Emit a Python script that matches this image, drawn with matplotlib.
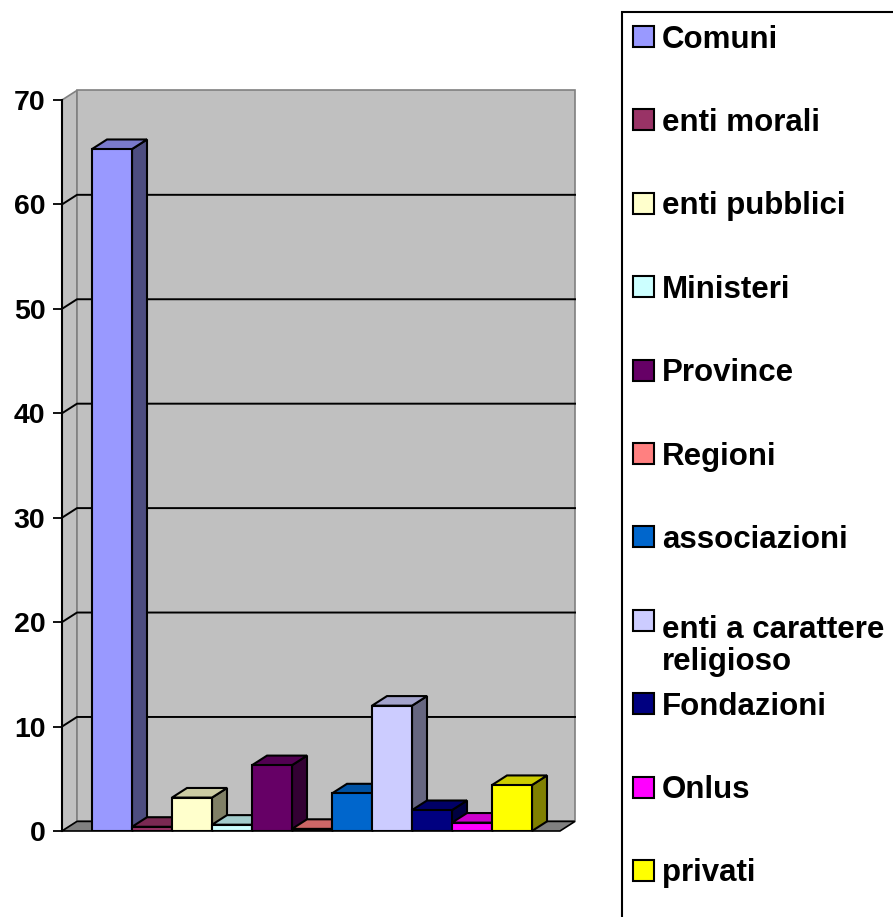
import numpy as np
import matplotlib.pyplot as plt
from matplotlib.colors import to_rgb
from matplotlib.patches import Polygon, Rectangle

plt.rcParams['font.family'] = ['Liberation Sans', 'DejaVu Sans']

categorie = ['Comuni', 'enti morali', 'enti pubblici', 'Ministeri', 'Province', 'Regioni',
             'associazioni', 'enti a carattere\nreligioso', 'Fondazioni', 'Onlus', 'privati']
valori = [65.3, 0.4, 3.2, 0.6, 6.3, 0.2, 3.6, 12.0, 2.0, 0.8, 4.4]
colori = ['#9999FF', '#993366', '#FFFFCC', '#CCFFFF', '#660066', '#FF8080',
          '#0066CC', '#CCCCFF', '#000080', '#FF00FF', '#FFFF00']
tick_y = [0, 10, 20, 30, 40, 50, 60, 70]

W, H = 893, 917
fig = plt.figure(figsize=(W / 100, H / 100), dpi=100)
ax = fig.add_axes([62 / W, 1 - 831 / H, 498 / W, 731 / H])
ax.set_xlim(-1.25, 11.2)
ax.set_ylim(0, 70)
x0, x1 = ax.get_xlim()
ymax = tick_y[-1]
dx, dy = 0.375, 0.92  # profondita' finta 3D

# pareti e pavimento
ax.add_patch(Polygon([(x0, 0), (x0 + dx, dy), (x0 + dx, ymax + dy), (x0, ymax)],
                     closed=True, fc='#C0C0C0', ec='#808080', lw=1.2, clip_on=False, zorder=0))
ax.add_patch(Rectangle((x0 + dx, dy), x1 - x0, ymax, fc='#C0C0C0', ec='#808080',
                       lw=1.2, clip_on=False, zorder=0))
for v in tick_y[1:-1]:
    ax.plot([x0, x0 + dx, x1 + dx], [v, v + dy, v + dy], color='black', lw=1.4,
            clip_on=False, zorder=1)
ax.add_patch(Polygon([(x0, 0), (x1, 0), (x1 + dx, dy), (x0 + dx, dy)], closed=True,
                     fc='#808080', ec='black', lw=1.2, clip_on=False, zorder=1))

# barre
xs = np.arange(len(valori))
w = 1.0
for x, v, c in zip(xs, valori, colori):
    rgb = np.array(to_rgb(c))
    l, r = x - w / 2, x + w / 2
    ax.add_patch(Polygon([(r, 0), (r + dx, dy), (r + dx, v + dy), (r, v)], closed=True,
                         fc=rgb * 0.5, ec='black', lw=1.5, zorder=2, clip_on=False))
    ax.add_patch(Polygon([(l, v), (r, v), (r + dx, v + dy), (l + dx, v + dy)], closed=True,
                         fc=rgb * 0.8, ec='black', lw=1.5, zorder=2.5, clip_on=False))
ax.bar(xs, valori, width=w, color=colori, edgecolor='black', linewidth=1.5, zorder=3)

# assi
for s in ['top', 'right', 'bottom']:
    ax.spines[s].set_visible(False)
ax.spines['left'].set_linewidth(1.5)
ax.spines['left'].set_zorder(4)
ax.set_xticks([])
ax.set_yticks(tick_y)
ax.set_yticklabels([str(t) for t in tick_y], fontsize=20.5, fontweight='bold')
ax.tick_params(axis='y', length=6.5, width=1.3, pad=5.5)
ax.patch.set_visible(False)

# legenda
fig.add_artist(Rectangle((622 / W, -0.1), 0.5, 1.1 - 12 / H, transform=fig.transFigure,
                         fill=False, ec='black', lw=1.5))
for i, (nome, c) in enumerate(zip(categorie, colori)):
    yc = 36.5 + 83.4 * i
    n_righe = nome.count('\n')
    fig.add_artist(Rectangle((633 / W, 1 - (yc + 10.5) / H), 21 / W, 21 / H,
                             transform=fig.transFigure, fc=c, ec='black', lw=1.5))
    fig.text(662 / W, 1 - (yc + 11 + 39 * n_righe) / H, nome, fontsize=22.5,
             fontweight='bold', va='baseline', ha='left', linespacing=1.1)

fig.savefig('out.png', dpi=100)
